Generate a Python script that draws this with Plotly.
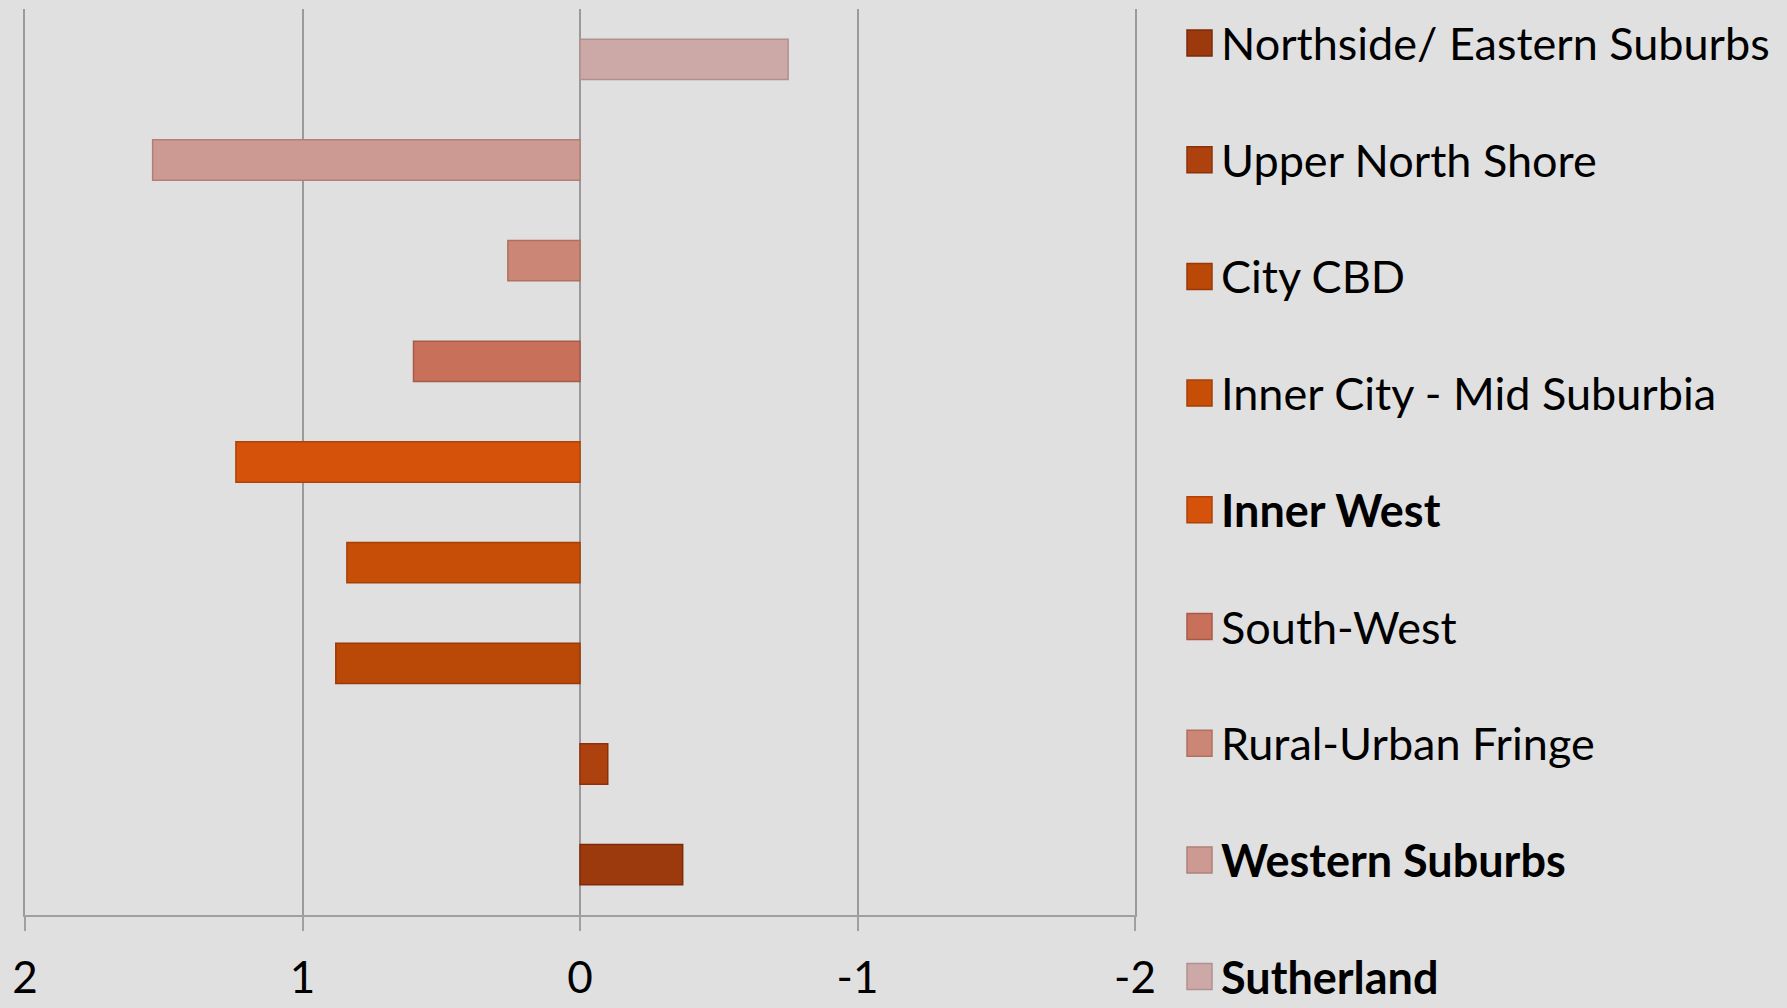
import plotly.graph_objects as go

# series (legend order, top to bottom) and their values
regions = ['Northside/ Eastern Suburbs', 'Upper North Shore', 'City CBD',
           'Inner City - Mid Suburbia', 'Inner West', 'South-West',
           'Rural-Urban Fringe', 'Western Suburbs', 'Sutherland']
values = [-0.37, -0.10, 0.88, 0.84, 1.24, 0.60, 0.26, 1.54, -0.75]
bold = [False, False, False, False, True, False, False, True, True]
x_ticks = [2, 1, 0, -1, -2]

fills = ['#9C3A0E', '#AE420E', '#BA4806', '#C64E06', '#D4520A',
         '#C8705A', '#CC8676', '#CC9A92', '#CCA8A6']
edges = ['#7E2A0A', '#8E300A', '#9A3808', '#A83E08', '#B04208',
         '#A85A48', '#B07060', '#B08078', '#B09090']

W, H = 1787, 1008
L, R, T, B = 25, 1135, 9, 915   # plot area in pixels
FONT = 'Lato'
BG = '#E0E0E0'

fig = go.Figure()
for name, v, c, e in zip(regions, values, fills, edges):
    fig.add_trace(go.Bar(x=[v], y=[name], orientation='h', width=0.4,
                         marker=dict(color=c, line=dict(color=e, width=1.5)),
                         name=name, showlegend=False))

# hand-drawn legend to get the large squares and spacing
def px_x(p):
    return (p - L) / (R - L)

def px_y(p):
    return (B - p) / (B - T)

for i, (name, c, e, b) in enumerate(zip(regions, fills, edges, bold)):
    cy = 43 + i * 116.7
    fig.add_shape(type='rect', xref='paper', yref='paper',
                  x0=px_x(1187), x1=px_x(1212), y0=px_y(cy - 13), y1=px_y(cy + 13),
                  fillcolor=c, line=dict(color=e, width=1.5))
    fig.add_annotation(xref='paper', yref='paper', x=px_x(1219), y=px_y(cy),
                       xanchor='left', yanchor='middle', showarrow=False,
                       text=f'<b>{name}</b>' if b else name,
                       font=dict(family=FONT, size=45, color='#000000'))

fig.update_xaxes(range=[2, -2], tickvals=x_ticks, ticktext=[str(t) for t in x_ticks],
                 showgrid=True, gridcolor='#9A9A9A', gridwidth=1.5,
                 zeroline=False, showline=True, linecolor='#A0A0A0', linewidth=2,
                 ticks='outside', ticklen=14, tickwidth=1.5, tickcolor='#A0A0A0',
                 ticklabelstandoff=9, automargin=False,
                 tickfont=dict(family=FONT, size=44, color='#000000'))
# y axis line mirrored gives the edge grid lines at 2 and -2
fig.update_yaxes(categoryorder='array', categoryarray=regions, range=[-0.5, 8.5],
                 showticklabels=False, showgrid=False, zeroline=False, automargin=False,
                 showline=True, mirror=True, linecolor='#9A9A9A', linewidth=1.5)

fig.update_layout(width=W, height=H, barmode='overlay',
                  margin=dict(l=L, r=W - R, t=T, b=H - B, autoexpand=False),
                  paper_bgcolor=BG, plot_bgcolor=BG,
                  font=dict(family=FONT))

fig.write_html('out.html', config={'displayModeBar': False},
               post_script="document.body.style.margin='0';"
                           "document.body.style.background='#E0E0E0';")
